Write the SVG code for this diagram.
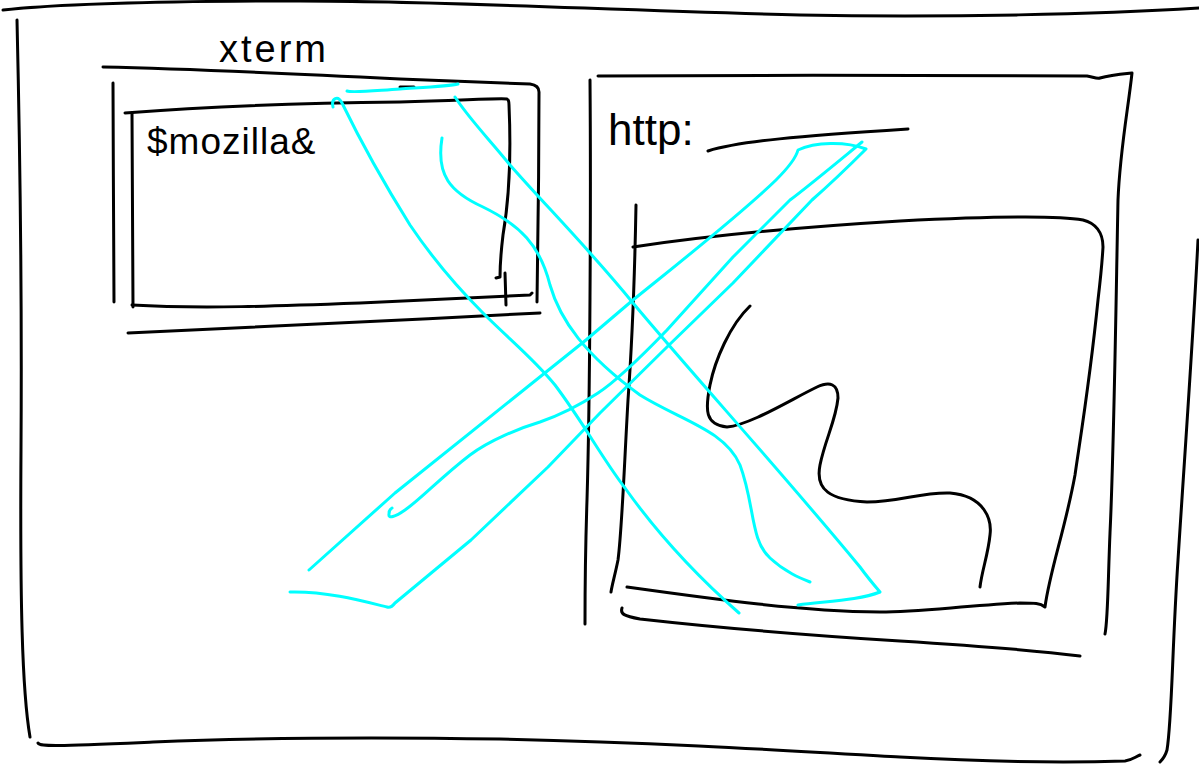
<svg xmlns="http://www.w3.org/2000/svg" width="1199" height="765" viewBox="0 0 1199 765">
<style>
.k{fill:none;stroke:#000;stroke-width:3;stroke-linecap:round;stroke-linejoin:round}
.c{fill:none;stroke:#00ffff;stroke-width:3;stroke-linecap:round;stroke-linejoin:round}
.t{font-family:"Liberation Sans",Arial,sans-serif;fill:#000}
</style>
<rect width="1199" height="765" fill="#fff"/>
<g id="frame">
<path class="k" d="M3,10 C60,4 150,1 300,1 C450,1 600,10 800,15 C950,18 1100,14 1199,8"/>
<path class="k" d="M17,20 C20,150 22,300 21,450 C20,600 22,690 30,737"/>
<path class="k" d="M38,743 C40,747 60,746 153,742 C250,738 380,737 500,739 C650,742 780,750 900,757 C990,762 1060,763 1125,761 C1132,760 1135,757 1140,755"/>
<path class="k" d="M1198,240 C1193,340 1185,450 1178,560 C1172,650 1172,720 1167,750 C1165,757 1162,760 1160,762"/>
</g>
<g id="xterm">
<text class="t" x="219" y="62" font-size="38" letter-spacing="3">xterm</text>
<path class="k" d="M103,67 C200,69 300,74 400,79 C470,82 520,84 530,84 C537,85 539,88 539,92 C539,160 538,240 537,302"/>
<path class="k" d="M113,83 C113,150 114,250 114,302"/>
<path class="k" d="M128,333 C250,328 400,320 540,313"/>
<path class="k" d="M125,113 C200,107 300,103 400,102 C470,100 500,98 507,99 C509,100 509,103 509,105 C511,150 509,200 503,235 C500,260 500,272 500,277 L496,278"/>
<path class="k" d="M132,113 L133,307"/>
<path class="k" d="M132,305 C200,309 280,306 360,303 C440,299 500,296 530,295 L532,293"/>
<path class="k" d="M505,273 L506,305"/>
<path class="k" d="M400,87 L414,87"/>
<text class="t" x="147" y="154" font-size="37" letter-spacing="1">$mozilla&amp;</text>
</g>
<g id="browser">
<path class="k" d="M598,76 C750,75 950,75 1087,76 C1093,77 1097,79 1100,78 C1110,75 1122,74 1132,73 C1128,110 1120,150 1118,200 C1116,300 1114,450 1110,533 C1108,580 1108,620 1105,634"/>
<path class="k" d="M590,80 C591,200 590,400 587,500 C585,560 585,600 585,624"/>
<path class="k" d="M622,608 C620,614 624,616 640,619 C720,628 820,636 900,641 C980,646 1040,651 1080,656"/>
<text class="t" x="608" y="145" font-size="44">http:</text>
<path class="k" d="M708,151 C740,141 800,136 908,129"/>
<path class="k" d="M636,205 C635,260 633,330 628,400 C624,470 622,530 618,560 C615,575 612,585 611,592"/>
<path class="k" d="M633,247 C700,237 800,227 900,221 C1000,216 1060,216 1083,220 C1095,223 1103,232 1103,247 C1102,265 1100,283 1098,300 C1090,380 1080,440 1075,475 C1065,530 1050,570 1045,607 C1040,603 1035,603 1020,603 C960,606 920,612 880,612 C800,611 720,600 627,587"/>
<path class="k" d="M750,306 C730,325 715,360 710,385 C705,410 705,425 727,427 C750,425 790,400 817,387 C830,381 838,384 838,398 C836,420 825,440 820,465 C815,490 830,500 867,502 C900,502 920,492 950,493 C985,496 992,520 990,535 C988,555 982,570 980,587"/>
</g>
<g id="connectors">
<path class="c" d="M347,91 C352,93 370,91 400,89 C430,87 450,86 458,84"/>
<path class="c" d="M333,107 C331,98 338,95 342,103 C360,140 385,185 410,225 C435,262 460,290 483,313 C510,340 535,360 555,385 C585,425 600,455 625,488 C655,530 690,570 739,613"/>
<path class="c" d="M455,97 C470,120 490,140 510,165 C545,205 590,250 633,303 C700,383 780,470 860,567 C868,578 874,585 880,592 C860,600 830,601 798,605"/>
<path class="c" d="M442,138 C436,175 450,192 483,207 C520,225 540,245 550,285 C560,320 585,355 640,395 C680,420 725,430 740,465 C755,505 750,540 770,558 C785,572 800,578 810,582"/>
<path class="c" d="M309,570 L395,493 L586,340 L633,300 C680,262 740,215 776,180 C790,166 796,158 798,150 C815,142 845,141 866,149 C840,175 820,193 812,200 L733,283 L667,347 L600,413 L548,467 L471,540 L395,603 C392,607 390,608 387,607 C370,603 330,591 290,592"/>
<path class="c" d="M862,142 C840,160 810,185 790,200 L733,257 L667,330 C640,358 615,382 598,393 C580,405 560,415 540,422 C520,428 490,440 470,455 C440,478 420,500 405,510 C395,517 388,519 389,514 C389,511 390,509 392,508"/>
</g>
</svg>
